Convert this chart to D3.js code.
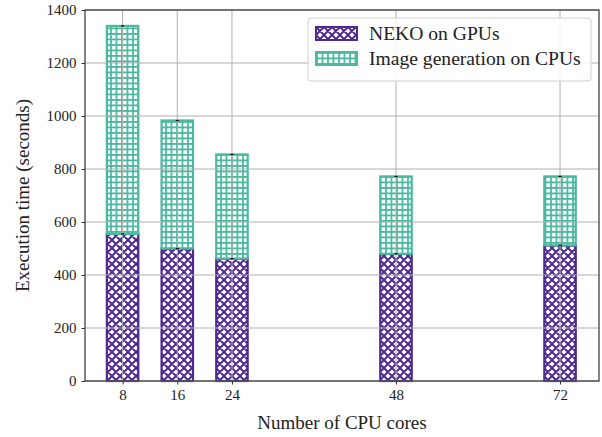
<!DOCTYPE html>
<html>
<head>
<meta charset="utf-8">
<script src="https://cdn.jsdelivr.net/npm/d3@7"></script>
<style>
  html, body { margin: 0; padding: 0; background: #fff; }
  svg { display: block; }
  svg text { font-family: "Liberation Serif", "Times New Roman", serif !important; }
</style>
</head>
<body>
<svg id="chart" width="602" height="437"></svg>
<script>
// data
const cores = [8, 16, 24, 48, 72];
const nekoGpu = [555, 500, 462, 480, 512];
const imageGenCpu = [785, 483, 393, 292, 260];
const yTicks = [0, 200, 400, 600, 800, 1000, 1200, 1400];
const seriesNames = ["NEKO on GPUs", "Image generation on CPUs"];

const PURPLE = "#4f2a8e";
const TEAL = "#4bb8a0";

const svg = d3.select("#chart");
const plotL = 85, plotR = 599, plotT = 10, plotB = 381;

const x = d3.scaleLinear().domain([2.5, 77.7]).range([plotL, plotR]);
const y = d3.scaleLinear().domain([0, 1400]).range([plotB, plotT]);
const barW = 4.6;

// hatch patterns
const defs = svg.append("defs");
const px = defs.append("pattern")
  .attr("id", "hatchX").attr("patternUnits", "userSpaceOnUse")
  .attr("width", 8).attr("height", 8);
px.append("rect").attr("width", 8).attr("height", 8).attr("fill", "#fff");
px.append("path")
  .attr("d", "M-2,2 L2,-2 M0,8 L8,0 M6,10 L10,6 M-2,6 L2,10 M0,0 L8,8 M6,-2 L10,2")
  .attr("stroke", PURPLE).attr("stroke-width", 2);

const pp = defs.append("pattern")
  .attr("id", "hatchPlus").attr("patternUnits", "userSpaceOnUse")
  .attr("width", 5.5).attr("height", 5.5);
pp.append("rect").attr("width", 5.5).attr("height", 5.5).attr("fill", "#fff");
pp.append("path")
  .attr("d", "M0,1 L5.5,1 M1,0 L1,5.5")
  .attr("stroke", TEAL).attr("stroke-width", 1.8);

// bars
const stack = cores.map((c, i) => ({ c, a: nekoGpu[i], b: imageGenCpu[i] }));

const bars = svg.append("g");
bars.selectAll("rect.neko").data(stack).enter().append("rect")
  .attr("x", d => x(d.c - barW / 2))
  .attr("width", d => x(d.c + barW / 2) - x(d.c - barW / 2))
  .attr("y", d => y(d.a))
  .attr("height", d => y(0) - y(d.a))
  .attr("fill", "url(#hatchX)")
  .attr("stroke", PURPLE).attr("stroke-width", 2.2);

bars.selectAll("rect.img").data(stack).enter().append("rect")
  .attr("x", d => x(d.c - barW / 2))
  .attr("width", d => x(d.c + barW / 2) - x(d.c - barW / 2))
  .attr("y", d => y(d.a + d.b))
  .attr("height", d => y(d.a) - y(d.a + d.b))
  .attr("fill", "url(#hatchPlus)")
  .attr("stroke", TEAL).attr("stroke-width", 2.2);

// grid (drawn over the bars, as in the reference)
const grid = svg.append("g").attr("stroke", "#b0b0b0").attr("stroke-width", 1);
grid.selectAll("line.h").data(yTicks).enter().append("line")
  .attr("x1", plotL).attr("x2", plotR)
  .attr("y1", d => y(d)).attr("y2", d => y(d));
grid.selectAll("line.v").data(cores).enter().append("line")
  .attr("x1", d => x(d)).attr("x2", d => x(d))
  .attr("y1", plotT).attr("y2", plotB);

// tiny error caps at segment tops
const caps = svg.append("g").attr("stroke", "#000").attr("stroke-width", 1.2);
stack.forEach(d => {
  [d.a, d.a + d.b].forEach(v => {
    caps.append("line")
      .attr("x1", x(d.c) - 1.5).attr("x2", x(d.c) + 1.5)
      .attr("y1", y(v)).attr("y2", y(v));
  });
});

// axes
const xAxis = svg.append("g").attr("transform", `translate(0,${plotB})`)
  .call(d3.axisBottom(x).tickValues(cores).tickSize(3.5).tickPadding(5).tickFormat(d3.format("d")));
const yAxis = svg.append("g").attr("transform", `translate(${plotL},0)`)
  .call(d3.axisLeft(y).tickValues(yTicks).tickSize(3.5).tickPadding(5).tickFormat(d3.format("d")));
[xAxis, yAxis].forEach(a => {
  a.select(".domain").remove();
  a.attr("font-family", null);
  a.selectAll("text").attr("font-size", 15).attr("fill", "#222");
  a.selectAll("line").attr("stroke", "#333").attr("stroke-width", 1);
});

// frame
svg.append("rect")
  .attr("x", plotL).attr("y", plotT)
  .attr("width", plotR - plotL).attr("height", plotB - plotT)
  .attr("fill", "none").attr("stroke", "#333").attr("stroke-width", 1.2);

// axis labels
svg.append("text")
  .attr("x", 342).attr("y", 429)
  .attr("text-anchor", "middle").attr("font-size", 19).attr("fill", "#222")
  .text("Number of CPU cores");
svg.append("text")
  .attr("transform", `translate(29,${(plotT + plotB) / 2}) rotate(-90)`)
  .attr("text-anchor", "middle").attr("font-size", 19).attr("fill", "#222")
  .text("Execution time (seconds)");

// legend
const lg = svg.append("g").attr("transform", "translate(308,18)");
lg.append("rect")
  .attr("width", 283).attr("height", 63).attr("rx", 3)
  .attr("fill", "#fff").attr("fill-opacity", 0.85)
  .attr("stroke", "#d0d0d0").attr("stroke-width", 1);
const fills = ["url(#hatchX)", "url(#hatchPlus)"];
const edges = [PURPLE, TEAL];
seriesNames.forEach((name, i) => {
  const row = lg.append("g").attr("transform", `translate(8,${9 + i * 25})`);
  row.append("rect")
    .attr("width", 41).attr("height", 13)
    .attr("fill", fills[i]).attr("stroke", edges[i]).attr("stroke-width", 2);
  row.append("text")
    .attr("x", 53).attr("y", 13)
    .attr("font-size", 19.6).attr("fill", "#222")
    .text(name);
});
</script>
</body>
</html>
